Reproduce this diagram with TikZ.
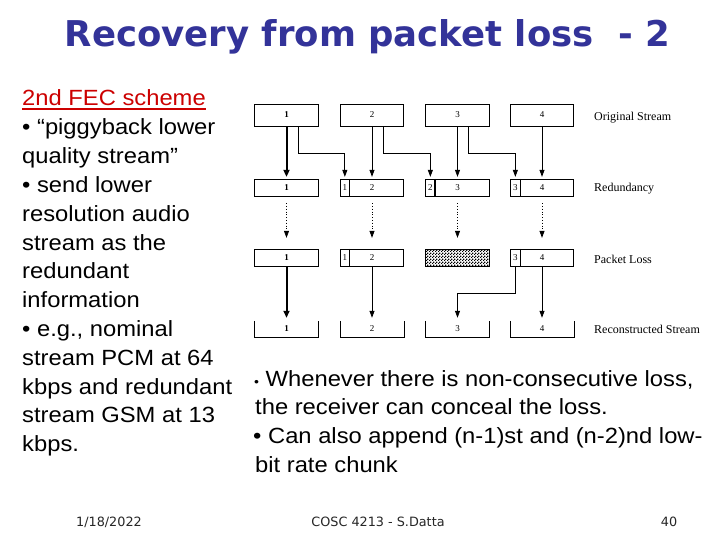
\documentclass[tikz,border=0pt]{standalone}
\usepackage{fontspec}
\usetikzlibrary{arrows.meta,patterns,calc}
\newfontfamily\bodyfont{Liberation Sans}[FakeStretch=1.08]
\newfontfamily\titlefont{DejaVu Sans Bold}
\newfontfamily\figfont{Liberation Serif}
\newfontfamily\footfont{DejaVu Sans}
\definecolor{titleblue}{RGB}{51,51,153}
\definecolor{fecred}{RGB}{204,0,0}
\pgfdeclarepatternformonly{finecheck}{\pgfpointorigin}{\pgfqpoint{3pt}{3pt}}{\pgfqpoint{3pt}{3pt}}{%
  \pgfpathrectangle{\pgfpointorigin}{\pgfqpoint{1.5pt}{1.5pt}}%
  \pgfpathrectangle{\pgfqpoint{1.5pt}{1.5pt}}{\pgfqpoint{1.5pt}{1.5pt}}%
  \pgfusepath{fill}}
\begin{document}
\begin{tikzpicture}[x=1pt,y=-1pt,
  pbox/.style={draw, line width=0.8pt, minimum width=63.5pt, inner sep=0pt, font=\figfont\fontsize{9}{9}\selectfont},
  ubox/.style={minimum width=63.5pt, minimum height=16pt, inner sep=0pt, font=\figfont\fontsize{9}{9}\selectfont},
  tallbox/.style={minimum height=22pt},
  shortbox/.style={minimum height=17.5pt},
  num/.style={inner sep=0pt, font=\figfont\fontsize{9}{9}\selectfont},
  lbl/.style={anchor=west, inner sep=0pt, font=\figfont\fontsize{12}{12}\selectfont},
  arr/.style={line width=0.8pt, -{Triangle[length=7pt,width=5pt]}},
  thickarr/.style={line width=2pt, -{Triangle[length=7pt,width=6pt]}},
  dotarr/.style={line width=0.8pt, dotted, -{Triangle[length=7pt,width=5pt]}},
  bodytext/.style={anchor=base west, inner sep=0pt, font=\bodyfont\fontsize{22}{26}\selectfont},
  foot/.style={inner sep=0pt, font=\footfont\fontsize{12.8}{14}\selectfont, text=black!85}
]
\useasboundingbox (0,0) rectangle (720,540);
\fill[white] (0,0) rectangle (720,540);

% title
\node[anchor=base, inner sep=0pt, font=\titlefont\fontsize{35.5}{40}\selectfont, text=titleblue] (title) at (367.5,47) {Recovery from packet loss~ - 2};

% left text
\node[bodytext, text=fecred] (fec) at (22,106) {2nd FEC scheme};
\draw[fecred, line width=1.6pt] ([yshift=-3pt]fec.base west) -- ([yshift=-3pt]fec.base east);
\foreach \t [count=\i from 0] in {{• “piggyback lower},{quality stream”},{• send lower},{resolution audio},{stream as the},{redundant},{information},{• e.g., nominal},{stream PCM at 64},{kbps and redundant},{stream GSM at 13},{kbps.}}
  \node[bodytext] (L\i) at (22,{134.8+\i*28.8}) {\t};

% right text
\node[bodytext] (R0) at (254,386) {{\fontsize{13}{13}\selectfont •} Whenever there is non-consecutive loss,};
\node[bodytext] (R1) at (255,414.7) {the receiver can conceal the loss.};
\node[bodytext] (R2) at (253,443.4) {• Can also append (n-1)st and (n-2)nd low-};
\node[bodytext] (R3) at (255,472) {bit rate chunk};

% row 1: original stream
\node[pbox,tallbox] (o1) at (286.5,115) {\textbf{1}};
\node[pbox,tallbox] (o2) at (372,115) {2};
\node[pbox,tallbox] (o3) at (457.5,115) {3};
\node[pbox,tallbox] (o4) at (542,115) {4};

% row 2: redundancy
\node[pbox,shortbox] (r1) at (286.5,188) {\textbf{1}};
\node[pbox,shortbox] (r2) at (372,188) {2};
\node[pbox,shortbox] (r3) at (457.5,188) {3};
\node[pbox,shortbox] (r4) at (542,188) {4};
\draw[line width=0.8pt] ([xshift=10pt]r2.north west) -- ([xshift=10pt]r2.south west);
\draw[line width=2pt] ([xshift=10pt]r3.north west) -- ([xshift=10pt]r3.south west);
\draw[line width=0.8pt] ([xshift=11pt]r4.north west) -- ([xshift=11pt]r4.south west);
\node[num] (r2s) at ($(r2.west)+(5,0)$) {1};
\node[num] (r3s) at ($(r3.west)+(5,0)$) {2};
\node[num] (r4s) at ($(r4.west)+(5.5,0)$) {3};

% row 3: packet loss
\node[pbox,shortbox] (p1) at (286.5,258) {\textbf{1}};
\node[pbox,shortbox] (p2) at (372,258) {2};
\node[pbox,shortbox,pattern=finecheck] (p3) at (457.5,258) {};
\node[pbox,shortbox] (p4) at (542,258) {4};
\draw[line width=0.8pt] ([xshift=10pt]p2.north west) -- ([xshift=10pt]p2.south west);
\draw[line width=0.8pt] ([xshift=11pt]p4.north west) -- ([xshift=11pt]p4.south west);
\node[num] (p2s) at ($(p2.west)+(5,0)$) {1};
\node[num] (p4s) at ($(p4.west)+(5.5,0)$) {3};

% row 4: reconstructed stream
\node[ubox] (c1) at (286.5,329) {\textbf{1}};
\node[ubox] (c2) at (372,329) {2};
\node[ubox] (c3) at (457.5,329) {3};
\node[ubox] (c4) at (542,329) {4};
\foreach \c in {c1,c2,c3,c4}
  \draw[line width=0.8pt] (\c.north west) -- (\c.south west) -- (\c.south east) -- (\c.north east);

% labels
\node[lbl] (lo) at (594,118) {Original Stream};
\node[lbl] (lr) at (594,189) {Redundancy};
\node[lbl] (lp) at (594,259) {Packet Loss};
\node[lbl] (lc) at (594,329) {Reconstructed Stream};

% row 1 -> row 2
\draw[thickarr] (o1.south) -- ([yshift=2pt]r1.north);
\draw[arr] ([xshift=11.5pt]o1.south) -- ++(0,27) -| ([xshift=5pt,yshift=2pt]r2.north west);
\draw[arr] (o2.south) -- ([yshift=2pt]r2.north);
\draw[arr] ([xshift=11pt]o2.south) -- ++(0,27) -| ([xshift=5pt,yshift=2pt]r3.north west);
\draw[arr] (o3.south) -- ([yshift=2pt]r3.north);
\draw[arr] ([xshift=10.5pt]o3.south) -- ++(0,27) -| ([xshift=5.5pt,yshift=2pt]r4.north west);
\draw[arr] (o4.south) -- ([yshift=2pt]r4.north);

% row 2 -> row 3 (dotted)
\foreach \a/\b in {r1/p1,r2/p2,r3/p3,r4/p4}
  \draw[dotarr] ([yshift=-6pt]\a.south) -- ([yshift=11pt]\b.north);

% row 3 -> row 4
\draw[thickarr] (p1.south) -- ([yshift=3pt]c1.north);
\draw[arr] (p2.south) -- ([yshift=3pt]c2.north);
\draw[arr] ([xshift=5.5pt]p4.south west) -- ++(0,26) -| ([yshift=3pt]c3.north);
\draw[arr] (p4.south) -- ([yshift=3pt]c4.north);

% footer
\node[foot] (date) at (109,522) {1/18/2022};
\node[foot] (course) at (378,522) {COSC 4213 - S.Datta};
\node[foot] (page) at (669,522) {40};
\end{tikzpicture}
\end{document}
